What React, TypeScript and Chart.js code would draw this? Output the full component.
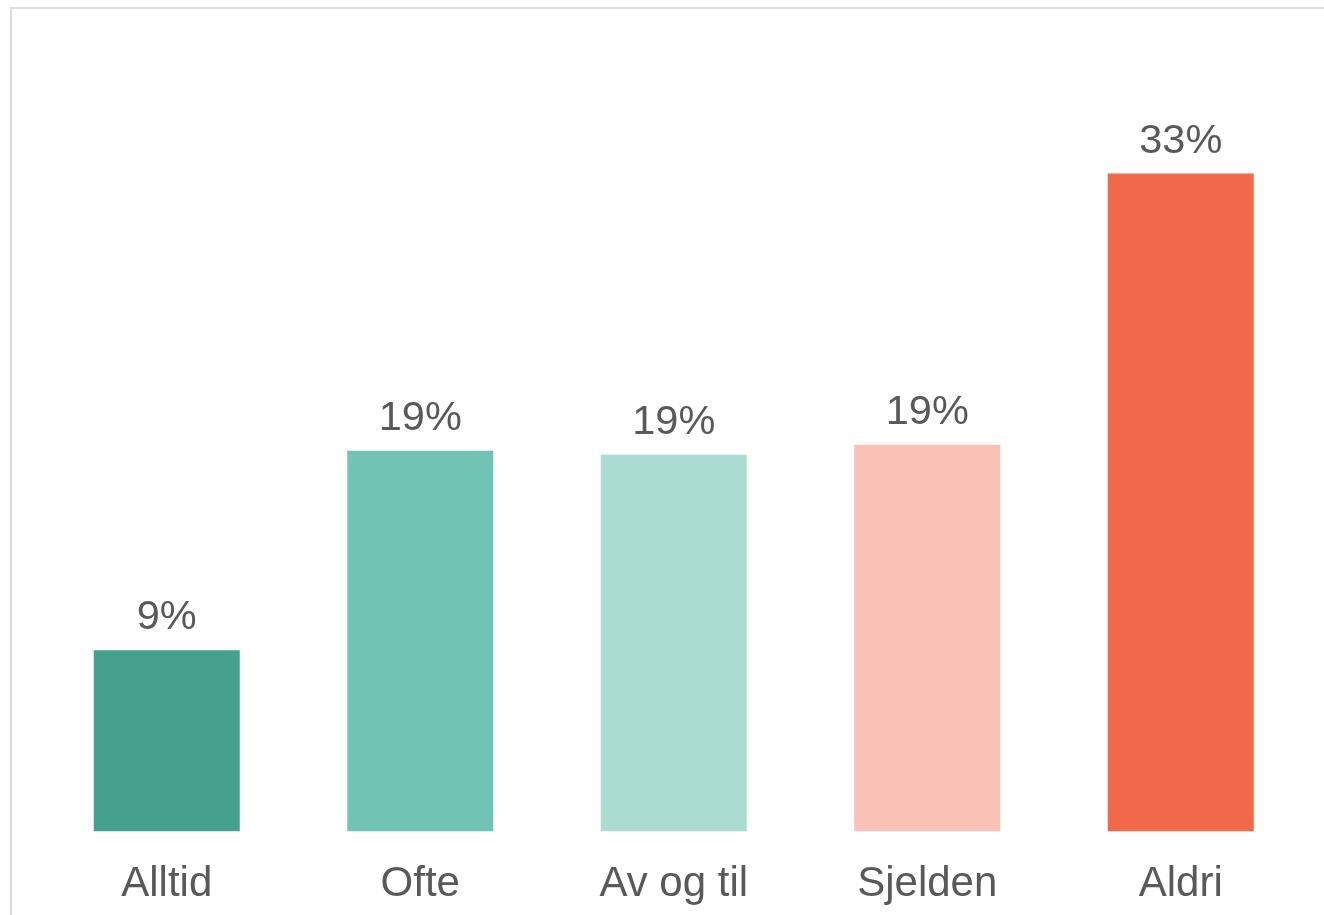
import React, { useEffect, useRef } from "react";
import { Chart, registerables } from "chart.js";

Chart.register(...registerables);

const categories = ["Alltid", "Ofte", "Av og til", "Sjelden", "Aldri"];
const values = [9.1, 19.1, 18.9, 19.4, 33.0];
const barColors = ["#45A18E", "#71C4B4", "#AADCD2", "#F9C2B7", "#F1684A"];
const textColor = "#595959";
const fontFamily = "'Liberation Sans', Arial, sans-serif";

const valueLabels = {
  id: "valueLabels",
  afterDatasetsDraw(chart: any) {
    const ctx = chart.ctx;
    const meta = chart.getDatasetMeta(0);
    ctx.save();
    ctx.font = `41.5px ${fontFamily}`;
    ctx.fillStyle = textColor;
    ctx.textAlign = "center";
    ctx.textBaseline = "alphabetic";
    meta.data.forEach((bar: any, i: number) => {
      const v = chart.data.datasets[0].data[i] as number;
      ctx.fillText(`${Math.round(v)}%`, bar.x, bar.y - 21);
    });
    ctx.restore();
  },
};

export default function App() {
  const ref = useRef<HTMLCanvasElement>(null);
  useEffect(() => {
    document.body.style.margin = "0";
    document.body.style.overflow = "hidden";
    const chart = new Chart(ref.current!, {
      type: "bar",
      data: {
        labels: categories,
        datasets: [
          {
            data: values,
            backgroundColor: barColors,
            borderWidth: 0,
            barPercentage: 0.576,
            categoryPercentage: 1,
          },
        ],
      },
      options: {
        animation: false,
        responsive: false,
        devicePixelRatio: 1,
        layout: { padding: { left: 40, right: 16.5, top: 34, bottom: 6 } },
        plugins: { legend: { display: false }, tooltip: { enabled: false } },
        scales: {
          x: {
            grid: { display: false, drawTicks: false },
            border: { display: false },
            ticks: {
              color: textColor,
              font: { size: 42, family: fontFamily },
              padding: 28,
              maxRotation: 0,
            },
          },
          y: {
            display: false,
            min: 0,
            max: 40,
          },
        },
      },
      plugins: [valueLabels],
    });
    return () => chart.destroy();
  }, []);
  return (
    <div style={{ position: "relative", width: 1324, height: 915, overflow: "hidden" }}>
      <div
        style={{
          position: "absolute",
          left: 10,
          top: 7,
          width: 1320,
          height: 920,
          borderTop: "2px solid #dcdcdc",
          borderLeft: "2px solid #dcdcdc",
          boxSizing: "border-box",
        }}
      />
      <canvas
        ref={ref}
        width={1324}
        height={944}
        style={{ position: "absolute", left: 0, top: 0 }}
      />
    </div>
  );
}
